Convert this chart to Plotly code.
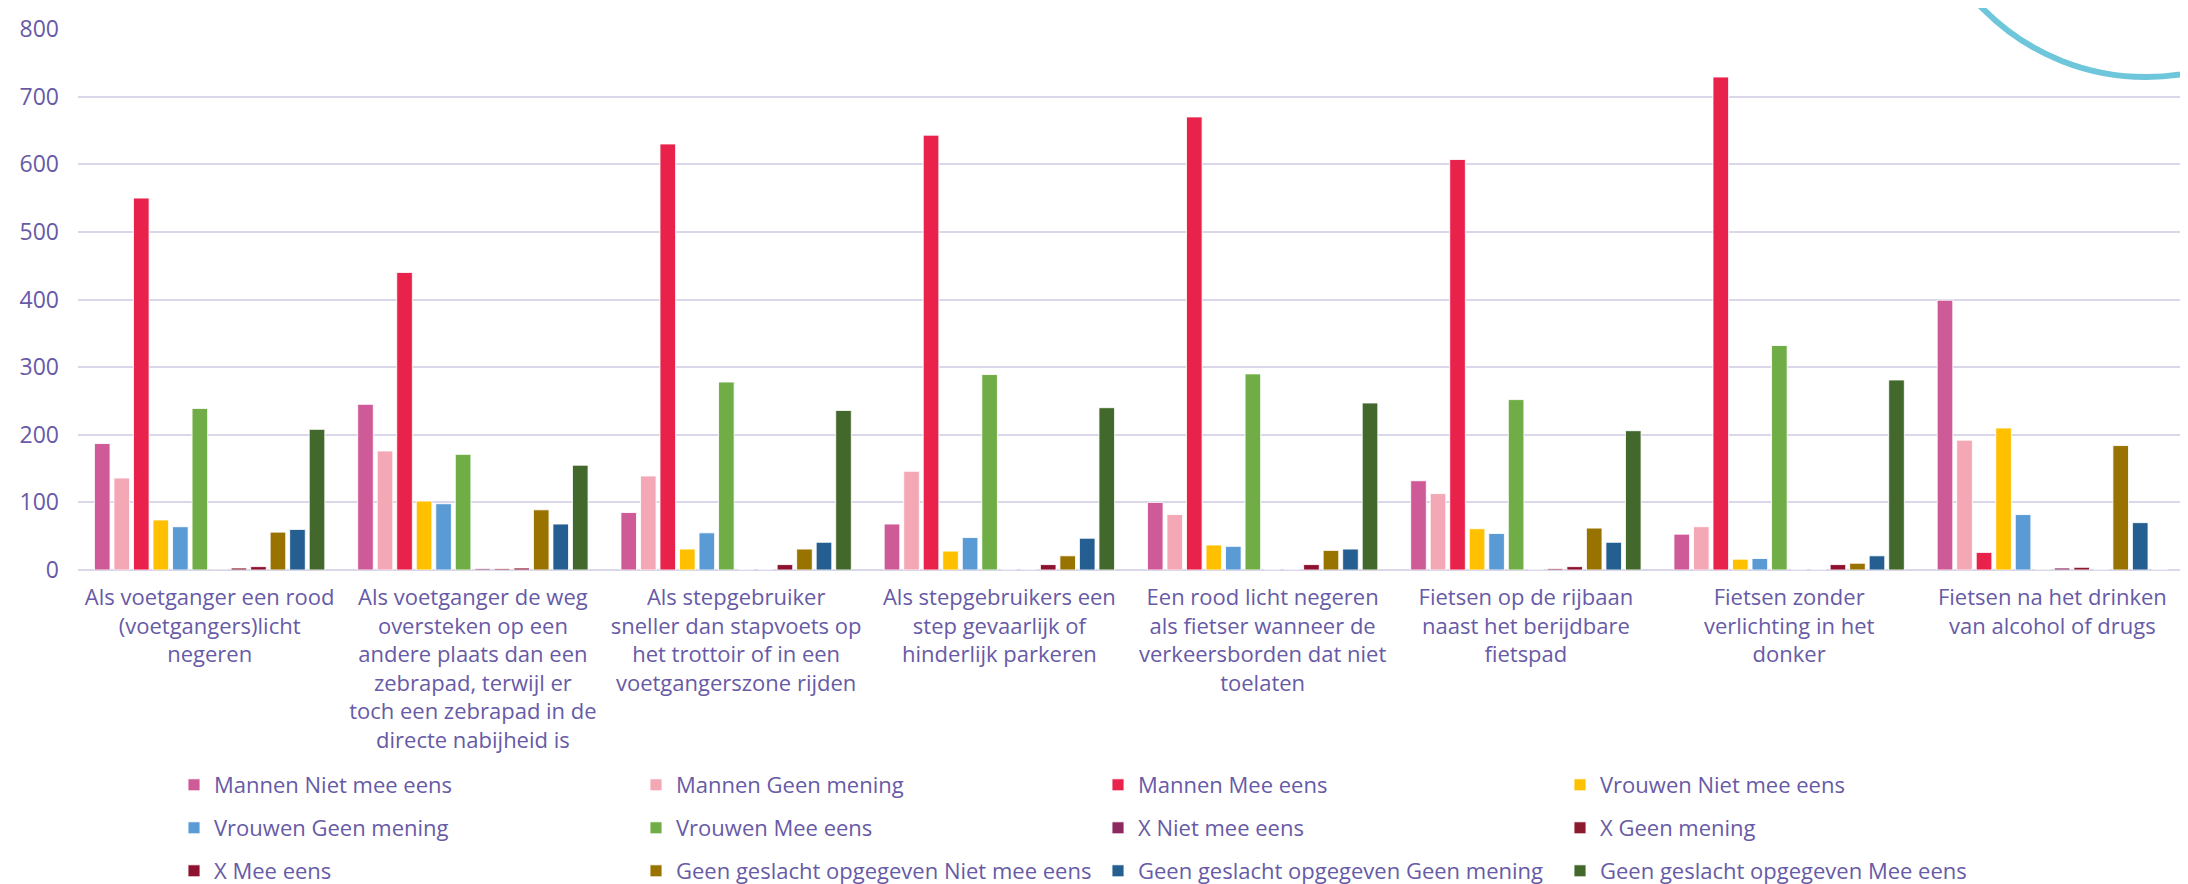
import plotly.graph_objects as go

# ---------------- data ----------------
categories = [
    "Als voetganger een rood<br>(voetgangers)licht<br>negeren",
    "Als voetganger de weg<br>oversteken op een<br>andere plaats dan een<br>zebrapad, terwijl er<br>toch een zebrapad in de<br>directe nabijheid is",
    "Als stepgebruiker<br>sneller dan stapvoets op<br>het trottoir of in een<br>voetgangerszone rijden",
    "Als stepgebruikers een<br>step gevaarlijk of<br>hinderlijk parkeren",
    "Een rood licht negeren<br>als fietser wanneer de<br>verkeersborden dat niet<br>toelaten",
    "Fietsen op de rijbaan<br>naast het berijdbare<br>fietspad",
    "Fietsen zonder<br>verlichting in het<br>donker",
    "Fietsen na het drinken<br>van alcohol of drugs",
]

mannen_niet = [187, 245, 85, 68, 100, 132, 53, 399]
mannen_geen = [136, 176, 139, 146, 82, 113, 64, 192]
mannen_mee = [550, 440, 630, 643, 670, 607, 729, 26]
vrouwen_niet = [74, 102, 31, 28, 37, 61, 16, 210]
vrouwen_geen = [64, 98, 55, 48, 35, 54, 17, 82]
vrouwen_mee = [239, 171, 278, 289, 290, 252, 332, 1]
x_niet = [1, 2, 0, 0, 0, 0, 0, 3]
x_geen = [3, 2, 0, 0, 0, 2, 0, 4]
x_mee = [5, 3, 8, 8, 8, 5, 8, 0]
geen_niet = [56, 89, 31, 21, 29, 62, 10, 184]
geen_geen = [60, 68, 41, 47, 31, 41, 21, 70]
geen_mee = [208, 155, 236, 240, 247, 206, 281, 0]

series_names = [
    "Mannen Niet mee eens", "Mannen Geen mening", "Mannen Mee eens",
    "Vrouwen Niet mee eens", "Vrouwen Geen mening", "Vrouwen Mee eens",
    "X Niet mee eens", "X Geen mening", "X Mee eens",
    "Geen geslacht opgegeven Niet mee eens",
    "Geen geslacht opgegeven Geen mening",
    "Geen geslacht opgegeven Mee eens",
]
series_values = [
    mannen_niet, mannen_geen, mannen_mee,
    vrouwen_niet, vrouwen_geen, vrouwen_mee,
    x_niet, x_geen, x_mee,
    geen_niet, geen_geen, geen_mee,
]
series_colors = [
    "#CE5B97", "#F4A7B5", "#E8224B",
    "#FFC000", "#5B9BD5", "#70AD47",
    "#8C2A5F", "#8B1A2F", "#8E1230",
    "#997300", "#255E91", "#43682B",
]
y_ticks = [0, 100, 200, 300, 400, 500, 600, 700, 800]

# ---------------- layout constants (pixels) ----------------
W, H = 2188, 884
ML, MR, MT, MB = 70, 12, 21, 322
PW, PH = W - ML - MR, H - MT - MB
TEXT = "#675AA6"
FONT = "Open Sans"

def px_x(px):
    return (px - ML) / PW

def px_y(py):
    return (H - MB - py) / PH

legend_ids = ["legend", "legend2", "legend3"]
row_centers = [777, 820, 863]

fig = go.Figure()
for i, (name, vals, col) in enumerate(zip(series_names, series_values, series_colors)):
    fig.add_trace(go.Bar(
        x=categories, y=vals, name=name,
        marker=dict(color=col, line=dict(color="rgba(255,255,255,0.85)", width=1)),
        legend=legend_ids[i // 4],
    ))

legend_common = dict(
    orientation="h", xanchor="left", yanchor="middle",
    entrywidth=417, entrywidthmode="pixels",
    font=dict(family=FONT, size=22, color=TEXT),
    bgcolor="rgba(0,0,0,0)", itemwidth=30, tracegroupgap=0,
    traceorder="normal", itemclick=False, itemdoubleclick=False,
)

layout_legends = {}
for lid, yc in zip(legend_ids, row_centers):
    d = dict(legend_common)
    d["x"] = px_x(166)
    d["y"] = px_y(yc)
    layout_legends[lid] = d

# decorative arc (top right)
cx, cy, r = 2138, -160, 229

fig.update_layout(
    width=W, height=H,
    margin=dict(l=ML, r=MR, t=MT, b=MB, autoexpand=False),
    paper_bgcolor="white", plot_bgcolor="white",
    barmode="group", bargap=0.11, bargroupgap=0.2,
    font=dict(family=FONT, size=22, color=TEXT),
    showlegend=True,
    shapes=[dict(
        type="circle", xref="paper", yref="paper",
        x0=px_x(cx - r), x1=px_x(cx + r),
        y0=px_y(cy + r), y1=px_y(cy - r),
        line=dict(color="#6EC6DA", width=6), layer="above",
    )],
    **layout_legends,
)
fig.update_xaxes(
    showgrid=False, showline=False, zeroline=False, ticks="",
    tickfont=dict(family=FONT, size=22, color=TEXT),
    ticklabelstandoff=12, tickangle=0,
)
fig.update_yaxes(
    range=[0, 800], tickvals=y_ticks,
    showgrid=True, gridcolor="#DAD7EA", gridwidth=2,
    zeroline=True, zerolinecolor="#DAD7EA", zerolinewidth=2,
    showline=False, ticks="",
    tickfont=dict(family=FONT, size=23, color=TEXT),
    ticklabelstandoff=18,
)

fig.write_html("out.html")
